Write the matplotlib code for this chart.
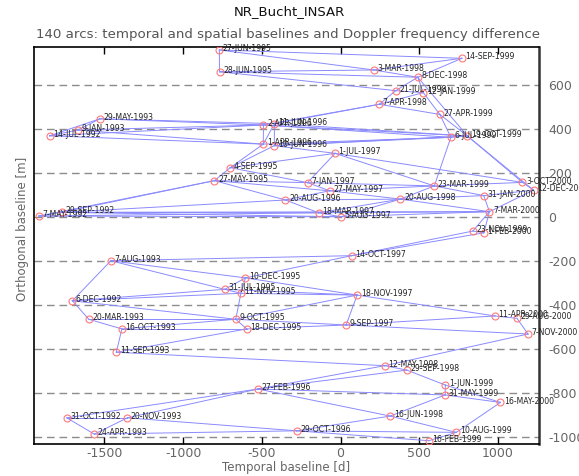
import numpy as np
import matplotlib.pyplot as plt

# -------------------------- data --------------------------
# acquisition dates, temporal baseline [d] relative to 5-AUG-1997, orthogonal baseline [m]
dates = ['14-JUL-1992', '7-MAY-1992', '29-SEP-1992', '31-OCT-1992', '6-DEC-1992',
         '9-JAN-1993', '20-MAR-1993', '24-APR-1993', '29-MAY-1993', '7-AUG-1993',
         '11-SEP-1993', '16-OCT-1993', '20-NOV-1993', '27-MAY-1995', '27-JUN-1995',
         '28-JUN-1995', '31-JUL-1995', '4-SEP-1995', '9-OCT-1995', '11-NOV-1995',
         '10-DEC-1995', '18-DEC-1995', '27-FEB-1996', '1-APR-1996', '2-APR-1996',
         '10-JUN-1996', '11-JUN-1996', '20-AUG-1996', '29-OCT-1996', '7-JAN-1997',
         '18-MAR-1997', '27-MAY-1997', '1-JUL-1997', '5-AUG-1997', '9-SEP-1997',
         '14-OCT-1997', '18-NOV-1997', '3-MAR-1998', '7-APR-1998', '12-MAY-1998',
         '16-JUN-1998', '21-JUL-1998', '20-AUG-1998', '29-SEP-1998', '8-DEC-1998',
         '12-JAN-1999', '16-FEB-1999', '23-MAR-1999', '27-APR-1999', '31-MAY-1999',
         '1-JUN-1999', '6-JUL-1999', '10-AUG-1999', '14-SEP-1999', '19-OCT-1999',
         '23-NOV-1999', '31-JAN-2000', '1-FEB-2000', '7-MAR-2000', '11-APR-2000',
         '16-MAY-2000', '29-AUG-2000', '3-OCT-2000', '7-NOV-2000', '12-DEC-2000']
t_days = [-1848, -1916, -1771, -1739, -1703,
          -1669, -1599, -1564, -1529, -1459,
          -1424, -1389, -1354, -801, -770,
          -769, -736, -701, -666, -633,
          -604, -596, -525, -491, -490,
          -421, -420, -350, -280, -210,
          -140, -70, -35, 0, 35,
          70, 105, 210, 245, 280,
          315, 350, 380, 420, 490,
          525, 560, 595, 630, 664,
          665, 700, 735, 770, 805,
          840, 909, 910, 945, 980,
          1015, 1120, 1155, 1190, 1225]
b_perp = [368, 3, 20, -914, -382,
          394, -466, -988, 445, -200,
          -616, -510, -914, 164, 758,
          659, -330, 223, -466, -348,
          -278, -510, -783, 330, 417,
          323, 423, 76, -973, 155,
          18, 118, 288, 0, -492,
          -177, -356, 667, 511, -677,
          -906, 573, 80, -697, 634,
          564, -1018, 140, 465, -810,
          -765, 361, -980, 720, 367,
          -65, 96, -73, 23, -451,
          -844, -462, 156, -533, 121]

arcs = [
    ('27-JUN-1995', '14-SEP-1999'), ('27-JUN-1995', '28-JUN-1995'), ('27-JUN-1995', '3-MAR-1998'),
    ('28-JUN-1995', '3-MAR-1998'), ('28-JUN-1995', '8-DEC-1998'), ('28-JUN-1995', '21-JUL-1998'),
    ('3-MAR-1998', '14-SEP-1999'), ('8-DEC-1998', '14-SEP-1999'), ('3-MAR-1998', '8-DEC-1998'),
    ('8-DEC-1998', '21-JUL-1998'), ('8-DEC-1998', '12-JAN-1999'), ('8-DEC-1998', '19-OCT-1999'),
    ('21-JUL-1998', '12-JAN-1999'), ('21-JUL-1998', '7-APR-1998'), ('12-JAN-1999', '7-APR-1998'),
    ('12-JAN-1999', '27-APR-1999'), ('7-APR-1998', '27-APR-1999'), ('7-APR-1998', '2-APR-1996'),
    ('7-APR-1998', '11-JUN-1996'), ('27-APR-1999', '6-JUL-1999'), ('27-APR-1999', '19-OCT-1999'),
    ('29-MAY-1993', '2-APR-1996'), ('29-MAY-1993', '9-JAN-1993'), ('29-MAY-1993', '14-JUL-1992'),
    ('29-MAY-1993', '11-JUN-1996'), ('14-JUL-1992', '9-JAN-1993'), ('14-JUL-1992', '2-APR-1996'),
    ('14-JUL-1992', '1-APR-1996'), ('9-JAN-1993', '2-APR-1996'), ('9-JAN-1993', '1-APR-1996'),
    ('2-APR-1996', '1-APR-1996'), ('11-JUN-1996', '1-APR-1996'), ('11-JUN-1996', '10-JUN-1996'),
    ('1-APR-1996', '4-SEP-1995'), ('10-JUN-1996', '4-SEP-1995'), ('2-APR-1996', '6-JUL-1999'),
    ('11-JUN-1996', '19-OCT-1999'), ('2-APR-1996', '19-OCT-1999'), ('1-APR-1996', '6-JUL-1999'),
    ('10-JUN-1996', '6-JUL-1999'), ('10-JUN-1996', '19-OCT-1999'), ('1-JUL-1997', '10-JUN-1996'),
    ('1-JUL-1997', '3-OCT-2000'), ('1-JUL-1997', '4-SEP-1995'), ('1-JUL-1997', '7-JAN-1997'),
    ('1-JUL-1997', '23-MAR-1999'), ('6-JUL-1999', '19-OCT-1999'), ('19-OCT-1999', '3-OCT-2000'),
    ('6-JUL-1999', '23-MAR-1999'), ('19-OCT-1999', '12-DEC-2000'),
    ('4-SEP-1995', '27-MAY-1995'), ('4-SEP-1995', '7-JAN-1997'), ('27-MAY-1995', '7-JAN-1997'),
    ('27-MAY-1995', '27-MAY-1997'), ('27-MAY-1995', '20-AUG-1996'), ('27-MAY-1995', '29-SEP-1992'),
    ('27-MAY-1995', '7-MAY-1992'), ('29-SEP-1992', '7-MAY-1992'), ('29-SEP-1992', '20-AUG-1996'),
    ('29-SEP-1992', '18-MAR-1997'), ('29-SEP-1992', '5-AUG-1997'), ('7-MAY-1992', '5-AUG-1997'),
    ('7-MAY-1992', '18-MAR-1997'), ('29-SEP-1992', '7-MAR-2000'),
    ('7-JAN-1997', '23-MAR-1999'), ('7-JAN-1997', '27-MAY-1997'), ('27-MAY-1997', '23-MAR-1999'),
    ('27-MAY-1997', '20-AUG-1998'), ('20-AUG-1996', '20-AUG-1998'), ('20-AUG-1996', '18-MAR-1997'),
    ('20-AUG-1996', '27-MAY-1997'), ('20-AUG-1998', '23-MAR-1999'), ('20-AUG-1998', '31-JAN-2000'),
    ('20-AUG-1998', '18-MAR-1997'), ('20-AUG-1998', '5-AUG-1997'), ('23-MAR-1999', '3-OCT-2000'),
    ('23-MAR-1999', '31-JAN-2000'), ('31-JAN-2000', '12-DEC-2000'), ('31-JAN-2000', '7-MAR-2000'),
    ('3-OCT-2000', '12-DEC-2000'), ('12-DEC-2000', '7-MAR-2000'), ('7-MAR-2000', '5-AUG-1997'),
    ('7-MAR-2000', '18-MAR-1997'), ('7-MAR-2000', '1-FEB-2000'), ('7-MAR-2000', '23-NOV-1999'),
    ('20-AUG-1998', '7-MAR-2000'), ('23-NOV-1999', '1-FEB-2000'), ('23-NOV-1999', '14-OCT-1997'),
    ('1-FEB-2000', '14-OCT-1997'), ('18-MAR-1997', '5-AUG-1997'),
    ('7-AUG-1993', '14-OCT-1997'), ('10-DEC-1995', '14-OCT-1997'), ('7-AUG-1993', '10-DEC-1995'),
    ('7-AUG-1993', '31-JUL-1995'), ('7-AUG-1993', '6-DEC-1992'), ('10-DEC-1995', '31-JUL-1995'),
    ('10-DEC-1995', '11-NOV-1995'), ('10-DEC-1995', '18-NOV-1997'), ('31-JUL-1995', '6-DEC-1992'),
    ('11-NOV-1995', '6-DEC-1992'), ('31-JUL-1995', '18-NOV-1997'), ('11-NOV-1995', '18-NOV-1997'),
    ('11-NOV-1995', '9-OCT-1995'), ('31-JUL-1995', '11-NOV-1995'), ('6-DEC-1992', '20-MAR-1993'),
    ('6-DEC-1992', '9-OCT-1995'), ('20-MAR-1993', '9-OCT-1995'), ('20-MAR-1993', '16-OCT-1993'),
    ('16-OCT-1993', '18-DEC-1995'), ('16-OCT-1993', '11-SEP-1993'), ('16-OCT-1993', '9-OCT-1995'),
    ('11-SEP-1993', '18-DEC-1995'), ('11-SEP-1993', '12-MAY-1998'), ('9-OCT-1995', '18-NOV-1997'),
    ('9-OCT-1995', '9-SEP-1997'), ('9-OCT-1995', '18-DEC-1995'), ('18-DEC-1995', '9-SEP-1997'),
    ('18-NOV-1997', '9-SEP-1997'), ('18-NOV-1997', '11-APR-2000'), ('9-SEP-1997', '7-NOV-2000'),
    ('9-SEP-1997', '11-APR-2000'), ('11-APR-2000', '29-AUG-2000'), ('29-AUG-2000', '7-NOV-2000'),
    ('7-NOV-2000', '12-MAY-1998'), ('12-MAY-1998', '29-SEP-1998'), ('12-MAY-1998', '27-FEB-1996'),
    ('29-SEP-1998', '1-JUN-1999'), ('29-SEP-1998', '27-FEB-1996'), ('27-FEB-1996', '31-OCT-1992'),
    ('27-FEB-1996', '20-NOV-1993'), ('27-FEB-1996', '16-JUN-1998'), ('27-FEB-1996', '31-MAY-1999'),
    ('31-OCT-1992', '20-NOV-1993'), ('31-OCT-1992', '24-APR-1993'), ('24-APR-1993', '20-NOV-1993'),
    ('24-APR-1993', '29-OCT-1996'), ('20-NOV-1993', '29-OCT-1996'), ('29-OCT-1996', '16-JUN-1998'),
    ('29-OCT-1996', '16-FEB-1999'), ('29-OCT-1996', '10-AUG-1999'), ('16-JUN-1998', '31-MAY-1999'),
    ('16-JUN-1998', '10-AUG-1999'), ('10-AUG-1999', '16-MAY-2000'), ('10-AUG-1999', '16-FEB-1999'),
    ('31-MAY-1999', '1-JUN-1999'), ('31-MAY-1999', '16-MAY-2000'), ('1-JUN-1999', '16-MAY-2000'),
]

# -------------------------- plot --------------------------
fig = plt.figure(figsize=(5.79, 4.76), dpi=100)
ax = fig.add_axes([0.0587, 0.0672, 0.872, 0.8334])

idx = {d: i for i, d in enumerate(dates)}
t = np.array(t_days)
b = np.array(b_perp)

# dashed lines every 200 m
for y in range(-1000, 601, 200):
    ax.axhline(y, color='#8c8c8c', lw=1.0, ls=(0, (5.5, 3.5)), zorder=1)

for a, c in arcs:
    i, j = idx[a], idx[c]
    ax.plot([t[i], t[j]], [b[i], b[j]], color='#8a8aff', lw=0.7, zorder=2)

ax.plot(t, b, 'o', ms=5, mfc='none', mec='#ff7878', mew=0.8, zorder=3)
for d, x, y in zip(dates, t, b):
    ax.annotate(d, (x, y), xytext=(2.5, 1), textcoords='offset points',
                fontsize=5.6, color='#222222', ha='left', va='center', zorder=4)

ax.set_xlim(-1947, 1259)
ax.set_ylim(-1033, 770)

ax.set_xticks([-1500, -1000, -500, 0, 500, 1000])
ax.set_xticklabels(['-1500', '-1000', '-500', '0', '500', '1000'])
ax.tick_params(axis='x', direction='in', length=5, top=True, labeltop=False,
               labelsize=9, labelcolor='#666666', pad=2, width=1)
yt = list(range(-1000, 601, 200))
ax.set_yticks(yt)
ax.set_yticklabels([str(v) for v in yt])
ax.yaxis.tick_right()
ax.tick_params(axis='y', length=0, labelsize=9, labelcolor='#666666', pad=7)

for s in ['left', 'bottom', 'top']:
    ax.spines[s].set_linewidth(1.2)
ax.spines['right'].set_linewidth(1.8)
ax.spines['right'].set_color('#333333')

ax.set_xlabel('Temporal baseline [d]', fontsize=8.5, color='#666666', labelpad=1)
fig.text(0.038, 0.52, 'Orthogonal baseline [m]', rotation=90, fontsize=8.5,
         color='#666666', ha='center', va='center')

fig.text(0.5, 0.975, 'NR_Bucht_INSAR', fontsize=9.5, ha='center', va='center', color='#111111')
fig.text(0.497, 0.927, '140 arcs: temporal and spatial baselines and Doppler frequency difference',
         fontsize=9.6, ha='center', va='center', color='#555555')

fig.savefig('out.png', dpi=100)
